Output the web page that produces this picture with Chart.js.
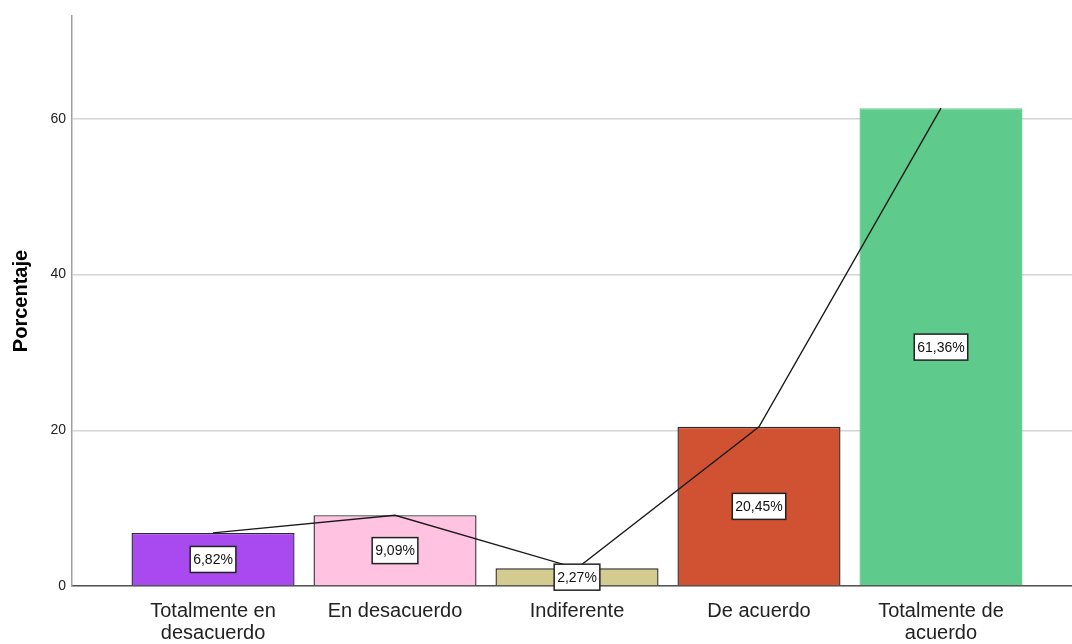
<!DOCTYPE html>
<html lang="es">
<head>
<meta charset="utf-8">
<title>Porcentaje</title>
<script src="https://cdn.jsdelivr.net/npm/chart.js@4/dist/chart.umd.min.js"></script>
<style>
  html, body { margin: 0; padding: 0; background: #fff; overflow: hidden; }
  #contenedor { width: 1072px; height: 644px; position: relative; }
</style>
</head>
<body>
<div id="contenedor"><canvas id="grafico"></canvas></div>
<script>
// =========================
// DATOS
// =========================
const categorias = [
  ["Totalmente en", "desacuerdo"],
  "En desacuerdo",
  "Indiferente",
  "De acuerdo",
  ["Totalmente de", "acuerdo"]
];
const porcentajes = [6.82, 9.09, 2.27, 20.45, 61.36];
const colores = ["#a94af0", "#ffc2e0", "#d3cc8e", "#d15232", "#5eca8b"];
const bordes = ["#2a2a2a", "#2a2a2a", "#2a2a2a", "#2a2a2a", "#5eca8b"];
const ticksY = [0, 20, 40, 60];

const puntos = porcentajes.map((v, i) => ({ x: i, y: v }));

// =========================
// ETIQUETAS EN LAS BARRAS
// =========================
const etiquetasBarras = {
  id: "etiquetasBarras",
  afterDatasetsDraw(chart) {
    const ctx = chart.ctx;
    const meta = chart.getDatasetMeta(0);
    const escalaY = chart.scales.y;
    ctx.save();
    ctx.font = "14px Arial, 'Liberation Sans', sans-serif";
    ctx.textAlign = "center";
    ctx.textBaseline = "middle";
    meta.data.forEach((barra, i) => {
      const v = porcentajes[i];
      const texto = v.toFixed(2).replace(".", ",") + "%";
      const y = escalaY.getPixelForValue(v / 2);
      const w = ctx.measureText(texto).width + 6;
      const h = 26;
      ctx.fillStyle = "#ffffff";
      ctx.fillRect(barra.x - w / 2, y - h / 2, w, h);
      ctx.strokeStyle = "#222222";
      ctx.lineWidth = 1.5;
      ctx.strokeRect(barra.x - w / 2, y - h / 2, w, h);
      ctx.fillStyle = "#111111";
      ctx.fillText(texto, barra.x, y + 1);
    });
    ctx.restore();
  }
};

// =========================
// GRÁFICO
// =========================
const ctx = document.getElementById("grafico").getContext("2d");
new Chart(ctx, {
  type: "bar",
  data: {
    datasets: [
      {
        type: "bar",
        data: puntos,
        backgroundColor: colores,
        borderColor: bordes,
        borderWidth: 1.4,
        categoryPercentage: 1,
        barPercentage: 0.896,
        order: 2
      },
      {
        type: "line",
        data: puntos,
        borderColor: "#1a1a1a",
        borderWidth: 1.4,
        pointRadius: 0,
        tension: 0,
        fill: false,
        order: 1
      }
    ]
  },
  options: {
    responsive: true,
    maintainAspectRatio: false,
    animation: false,
    layout: { padding: { top: 16, left: 0, right: 0, bottom: 0 } },
    plugins: {
      legend: { display: false },
      tooltip: { enabled: false }
    },
    scales: {
      x: {
        type: "linear",
        min: -0.775,
        max: 4.72,
        offset: false,
        grid: { display: false, offset: false },
        border: { display: true, color: "#555555", width: 1.5 },
        afterBuildTicks: (s) => { s.ticks = categorias.map((_, i) => ({ value: i })); },
        afterFit: (s) => { s.height = 58; },
        ticks: {
          autoSkip: false,
          minRotation: 0,
          maxRotation: 0,
          padding: 6,
          color: "#222222",
          font: { family: "Arial, 'Liberation Sans', sans-serif", size: 20, lineHeight: 1.1 },
          callback: (v) => categorias[v]
        }
      },
      y: {
        min: 0,
        max: 73.2,
        grid: { color: "#d4d4d4", lineWidth: 1.5, drawTicks: false },
        border: { display: true, color: "#a0a0a0", width: 1.5 },
        afterBuildTicks: (s) => { s.ticks = ticksY.map(v => ({ value: v })); },
        afterFit: (s) => { s.width = 72; },
        ticks: {
          padding: 6,
          color: "#222222",
          font: { family: "Arial, 'Liberation Sans', sans-serif", size: 14 }
        },
        title: {
          display: true,
          text: "Porcentaje",
          color: "#000000",
          padding: { top: 9, bottom: 0 },
          font: { family: "Arial, 'Liberation Sans', sans-serif", size: 20, weight: "bold" }
        }
      }
    }
  },
  plugins: [etiquetasBarras]
});
</script>
</body>
</html>
